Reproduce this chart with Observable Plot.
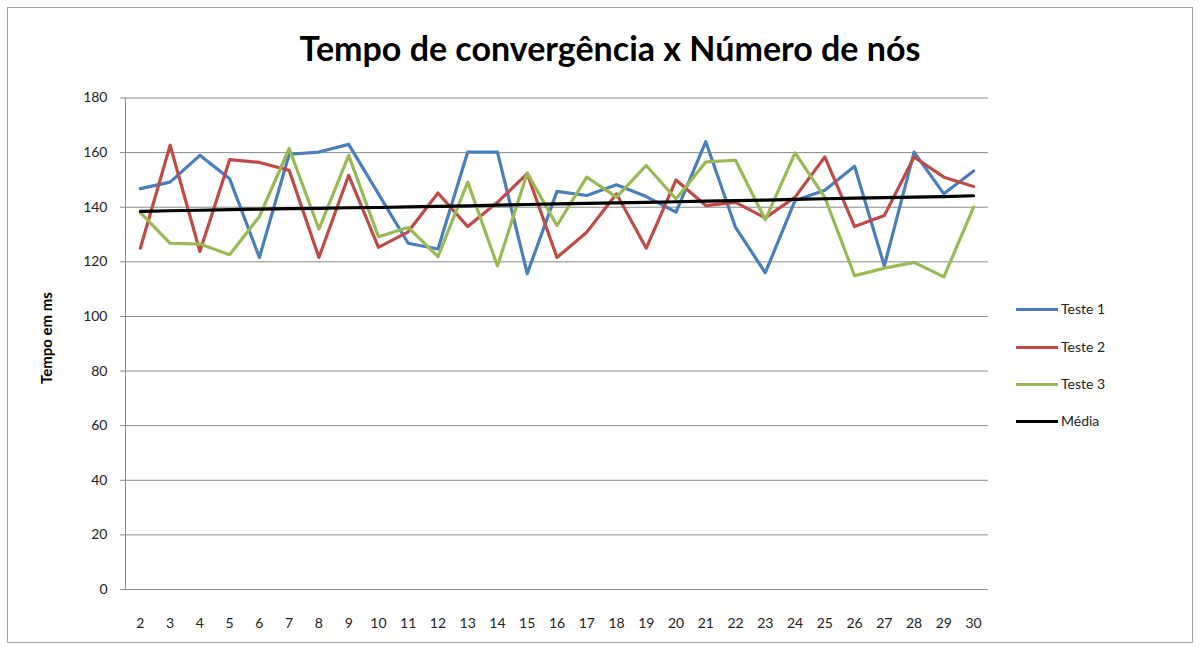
<!DOCTYPE html>
<html>
<head>
<meta charset="utf-8">
<script src="https://cdn.jsdelivr.net/npm/d3@7"></script>
<script src="https://cdn.jsdelivr.net/npm/@observablehq/plot@0.6"></script>
<style>
  html, body { margin: 0; padding: 0; background: #fff; }
  #wrap { position: relative; width: 1202px; height: 652px; overflow: hidden; font-family: Lato, "Open Sans", sans-serif; }
  #border { position: absolute; left: 7px; top: 7px; width: 1184px; height: 634px; border: 1px solid #a0a0a0; }
  #title { position: absolute; left: 0; width: 1220px; top: 27px; text-align: center; font-size: 34px; font-weight: bold; color: #000; }
  #ylabel { position: absolute; left: 46px; top: 338px; transform: translate(-50%, -50%) rotate(-90deg); font-size: 15px; font-weight: bold; white-space: nowrap; color: #000; }
  #plot { position: absolute; left: 0; top: 80px; }
  #legend { position: absolute; left: 1016px; top: 300px; font-size: 14px; color: #222; }
  .item { position: absolute; left: 0; height: 18px; white-space: nowrap; }
  .item .sw { position: absolute; left: 0; top: 8px; width: 42px; height: 3px; }
  .item .lb { position: absolute; left: 45px; top: 0; }
</style>
</head>
<body>
<div id="wrap">
  <div id="border"></div>
  <div id="title">Tempo de convergência x Número de nós</div>
  <div id="ylabel">Tempo em ms</div>
  <div id="plot"></div>
  <div id="legend"></div>
</div>
<script>
const nodes = [2,3,4,5,6,7,8,9,10,11,12,13,14,15,16,17,18,19,20,21,22,23,24,25,26,27,28,29,30];
const teste1 = [146.8,149.2,159,150.4,121.6,159.4,160.2,163,144.9,126.8,124.7,160.2,160.2,115.7,145.8,144.3,148.2,143.9,138.2,164,132.6,116,142.5,146.2,155,118.5,160.2,144.9,153.3];
const teste2 = [125,162.7,123.8,157.4,156.4,153.5,121.6,151.7,125.3,131,145.2,132.9,141.8,152.3,121.6,130.8,144.9,125,150,140.6,141.8,136.1,143.7,158.4,132.9,137,158.4,151,147.6];
const teste3 = [138,126.8,126.5,122.6,136.6,161.5,132,159,129.2,132.6,121.9,149.2,118.5,152.5,133.3,151,143.7,155.3,143,156.6,157.2,135.4,159.9,143.6,114.9,117.7,119.8,114.5,140];
const media = [138.5,138.7,138.9,139.1,139.3,139.5,139.6,139.8,139.9,140.1,140.3,140.5,140.8,141.0,141.2,141.4,141.6,141.8,142.0,142.2,142.4,142.6,142.9,143.1,143.3,143.5,143.7,143.9,144.2];
const yTicks = [0,20,40,60,80,100,120,140,160,180];
const seriesNames = ["Teste 1","Teste 2","Teste 3","Média"];
const seriesColors = ["#4A7EBB","#BE4B48","#98B954","#000000"];
const seriesValues = [teste1, teste2, teste3, media];

const rows = [];
seriesNames.forEach((name, s) => {
  nodes.forEach((n, i) => rows.push({serie: name, n, v: seriesValues[s][i]}));
});

const chart = Plot.plot({
  width: 1000,
  height: 560,
  marginLeft: 125,
  marginRight: 12,
  marginTop: 17.5,
  marginBottom: 51,
  style: {fontFamily: "Lato, 'Open Sans', sans-serif", fontSize: "14px", color: "#222", background: "transparent"},
  x: {type: "linear", domain: [nodes[0] - 0.5, nodes[nodes.length - 1] + 0.5]},
  y: {domain: [0, 180]},
  color: {domain: seriesNames, range: seriesColors},
  marks: [
    Plot.gridY(yTicks, {stroke: "#8a8a8a", strokeOpacity: 1, strokeWidth: 1}),
    Plot.ruleX([nodes[0] - 0.5], {stroke: "#8a8a8a", strokeWidth: 1}),
    Plot.axisY(yTicks, {tickSize: 5, tickPadding: 13, stroke: "#8a8a8a", label: null, fontSize: 14}),
    Plot.axisX(nodes, {tickSize: 0, tickPadding: 29, label: null, tickFormat: d => String(d), fontSize: 14}),
    Plot.line(rows, {x: "n", y: "v", z: "serie", stroke: "serie", strokeWidth: 3.2, strokeLinejoin: "round", strokeLinecap: "round"})
  ]
});
document.getElementById("plot").appendChild(chart);

const legend = document.getElementById("legend");
const legendTops = [0, 38, 75, 112];
seriesNames.forEach((name, i) => {
  const it = document.createElement("div");
  it.className = "item";
  it.style.top = legendTops[i] + "px";
  it.innerHTML = `<div class="sw" style="background:${seriesColors[i]}"></div><div class="lb">${name}</div>`;
  legend.appendChild(it);
});
</script>
</body>
</html>
